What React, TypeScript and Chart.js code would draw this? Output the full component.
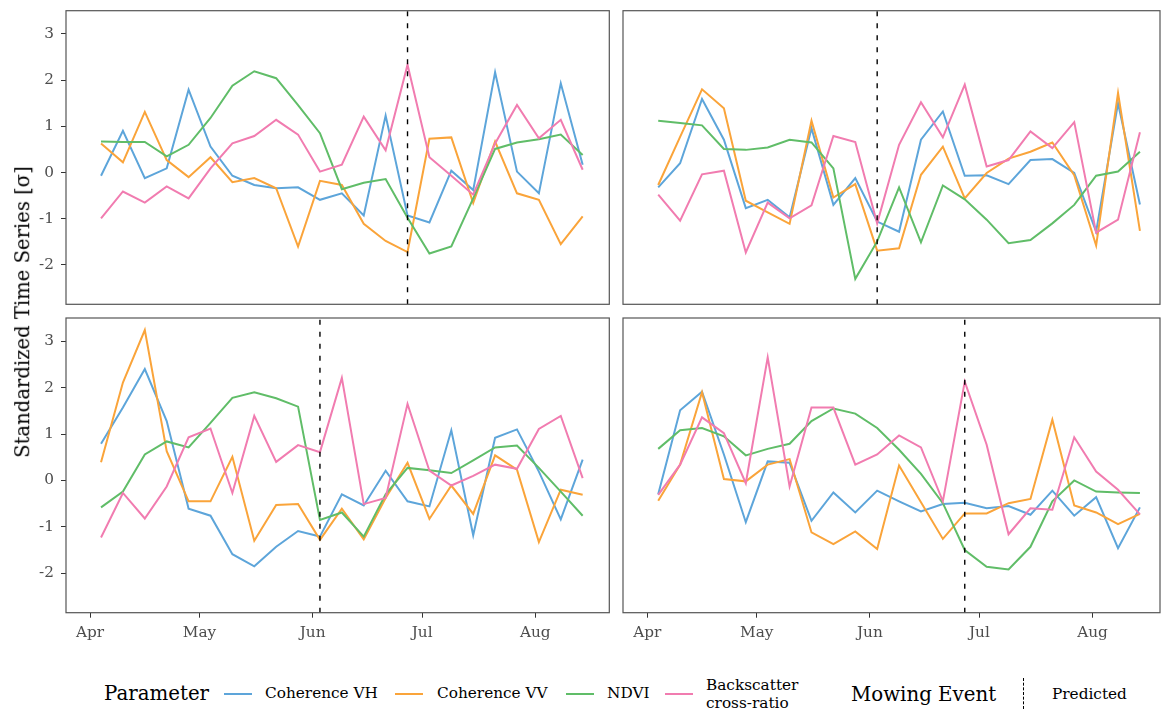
import React, { useEffect, useRef } from "react";
import { Chart, registerables } from "chart.js";

Chart.register(...registerables);

// ---------- data ----------
const acquisitionDates = [
  "04-04", "04-10", "04-16", "04-22", "04-28", "05-04", "05-10", "05-16",
  "05-22", "05-28", "06-03", "06-09", "06-15", "06-21", "06-27", "07-03",
  "07-09", "07-15", "07-21", "07-27", "08-02", "08-08", "08-14",
];
const monthTickDates = ["04-01", "05-01", "06-01", "07-01", "08-01"];
const monthTickLabels = ["Apr", "May", "Jun", "Jul", "Aug"];
const yTickValues = [-2, -1, 0, 1, 2, 3];
const seriesNames = ["Coherence VH", "Coherence VV", "NDVI", "Backscatter cross-ratio"];
const seriesColors = ["#5DA5DA", "#FAA43A", "#60BD68", "#F17CB0"];

// top-left field
const tlCoherenceVH = [-0.07, 0.9, -0.12, 0.09, 1.79, 0.56, -0.07, -0.27, -0.34, -0.32, -0.59, -0.45, -0.93, 1.23, -0.93, -1.08, 0.04, -0.38, 2.17, 0.02, -0.45, 1.93, 0.17];
const tlCoherenceVV = [0.63, 0.22, 1.31, 0.27, -0.1, 0.33, -0.21, -0.12, -0.34, -1.6, -0.18, -0.27, -1.11, -1.48, -1.72, 0.73, 0.76, -0.66, 0.67, -0.45, -0.59, -1.55, -0.95];
const tlNdvi = [0.67, 0.66, 0.66, 0.35, 0.6, 1.18, 1.88, 2.19, 2.04, 1.46, 0.85, -0.36, -0.22, -0.14, -0.98, -1.75, -1.6, -0.56, 0.51, 0.65, 0.72, 0.82, 0.38];
const tlCrossRatio = [-0.99, -0.41, -0.65, -0.3, -0.56, 0.09, 0.63, 0.79, 1.14, 0.82, 0.02, 0.17, 1.21, 0.48, 2.33, 0.33, -0.07, -0.48, 0.63, 1.46, 0.74, 1.14, 0.06];
const tlMowing = "06-27";

// top-right field
const trCoherenceVH = [-0.32, 0.2, 1.59, 0.71, -0.77, -0.59, -0.97, 0.96, -0.7, -0.12, -1.06, -1.28, 0.71, 1.32, -0.07, -0.06, -0.25, 0.27, 0.29, -0.01, -1.28, 1.5, -0.69];
const trCoherenceVV = [-0.27, 0.77, 1.8, 1.39, -0.61, -0.86, -1.11, 1.12, -0.54, -0.25, -1.69, -1.64, -0.05, 0.56, -0.56, -0.01, 0.3, 0.45, 0.65, -0.06, -1.58, 1.72, -1.26];
const trNdvi = [1.12, 1.07, 1.02, 0.51, 0.49, 0.54, 0.71, 0.65, 0.09, -2.3, -1.49, -0.32, -1.51, -0.28, -0.58, -1.02, -1.53, -1.46, -1.1, -0.7, -0.07, 0.02, 0.45];
const trCrossRatio = [-0.48, -1.04, -0.04, 0.04, -1.73, -0.65, -0.99, -0.71, 0.79, 0.66, -1.1, 0.6, 1.52, 0.76, 1.9, 0.13, 0.27, 0.89, 0.53, 1.09, -1.3, -1.02, 0.87];
const trMowing = "06-03";

// bottom-left field
const blCoherenceVH = [0.79, 1.57, 2.4, 1.28, -0.61, -0.76, -1.59, -1.85, -1.43, -1.09, -1.21, -0.3, -0.54, 0.21, -0.45, -0.56, 1.08, -1.18, 0.92, 1.1, 0.19, -0.84, 0.45];
const blCoherenceVV = [0.39, 2.11, 3.24, 0.63, -0.45, -0.45, 0.51, -1.3, -0.53, -0.51, -1.28, -0.61, -1.27, -0.38, 0.38, -0.83, -0.11, -0.72, 0.54, 0.23, -1.33, -0.2, -0.31];
const blNdvi = [-0.58, -0.24, 0.56, 0.84, 0.71, 1.24, 1.78, 1.9, 1.77, 1.59, -0.85, -0.69, -1.21, -0.3, 0.27, 0.22, 0.16, 0.43, 0.71, 0.75, 0.27, -0.24, -0.76];
const blCrossRatio = [-1.23, -0.27, -0.82, -0.13, 0.93, 1.12, -0.27, 1.39, 0.4, 0.76, 0.61, 2.21, -0.51, -0.38, 1.65, 0.21, -0.11, 0.1, 0.34, 0.25, 1.11, 1.39, 0.05];
const blMowing = "06-03";

// bottom-right field
const brCoherenceVH = [-0.3, 1.51, 1.91, 0.56, -0.9, 0.41, 0.38, -0.87, -0.26, -0.69, -0.22, -0.45, -0.67, -0.51, -0.48, -0.6, -0.55, -0.74, -0.22, -0.76, -0.36, -1.46, -0.58];
const brCoherenceVV = [-0.44, 0.34, 1.9, 0.03, -0.02, 0.34, 0.46, -1.12, -1.37, -1.1, -1.48, 0.32, -0.47, -1.26, -0.71, -0.71, -0.49, -0.4, 1.31, -0.54, -0.69, -0.94, -0.72];
const brNdvi = [0.68, 1.08, 1.13, 0.95, 0.54, 0.68, 0.79, 1.28, 1.55, 1.44, 1.13, 0.66, 0.14, -0.49, -1.5, -1.86, -1.92, -1.43, -0.45, 0.0, -0.24, -0.26, -0.27];
const brCrossRatio = [-0.31, 0.34, 1.36, 1.02, -0.06, 2.65, -0.13, 1.57, 1.57, 0.34, 0.56, 0.97, 0.71, -0.45, 2.13, 0.77, -1.16, -0.6, -0.63, 0.93, 0.19, -0.2, -0.73];
const brMowing = "06-27";

// ---------- helpers ----------
const MONTH_START: Record<number, number> = { 4: 0, 5: 30, 6: 61, 7: 91, 8: 122, 9: 153 };
function dayOffset(mmdd: string): number {
  const [m, d] = mmdd.split("-").map(Number);
  return MONTH_START[m] + d - 1;
}

const Y_MIN = -2.85;
const Y_MAX = 3.5;
const FONT = "'DejaVu Serif', serif";
const TICK_COLOR = "#4D4D4D";
const SMALL = 15.3;
const LARGE = 19.8;

const panelBorder = {
  id: "panelBorder",
  afterDatasetsDraw(chart: any) {
    const { ctx, chartArea: a } = chart;
    ctx.save();
    ctx.strokeStyle = "#555555";
    ctx.lineWidth = 1.2;
    ctx.strokeRect(a.left, a.top, a.right - a.left, a.bottom - a.top);
    ctx.restore();
  },
};

type PanelProps = {
  series: number[][];
  mowing: string;
  showX: boolean;
  showY: boolean;
  left: number;
  top: number;
  width: number;
  height: number;
  padding: { left: number; top: number; right: number; bottom: number };
  xMin: number;
  xMax: number;
  yAxisWidth: number;
  xAxisHeight: number;
};

function Panel(p: PanelProps) {
  const ref = useRef<HTMLCanvasElement | null>(null);
  useEffect(() => {
    if (!ref.current) return;
    const xs = acquisitionDates.map(dayOffset);
    const datasets: any[] = p.series.map((vals, i) => ({
      label: seriesNames[i],
      data: vals.map((v, k) => ({ x: xs[k], y: v })),
      borderColor: seriesColors[i],
      backgroundColor: seriesColors[i],
      borderWidth: 2,
      pointRadius: 0,
      tension: 0,
      order: 4 - i,
    }));
    const md = dayOffset(p.mowing);
    datasets.push({
      label: "Predicted",
      data: [{ x: md, y: Y_MIN }, { x: md, y: Y_MAX }],
      borderColor: "#000000",
      borderWidth: 1.4,
      borderDash: [5, 7],
      pointRadius: 0,
      order: 0,
    });
    const tickFont = { family: FONT, size: SMALL };
    const chart = new Chart(ref.current, {
      type: "line",
      data: { datasets },
      options: {
        animation: false,
        responsive: false,
        devicePixelRatio: 1,
        layout: { padding: p.padding },
        plugins: { legend: { display: false }, tooltip: { enabled: false } },
        scales: {
          x: {
            type: "linear",
            min: p.xMin,
            max: p.xMax,
            display: p.showX,
            afterBuildTicks: (s: any) => {
              s.ticks = monthTickDates.map((d) => ({ value: dayOffset(d) }));
            },
            afterFit: (s: any) => {
              if (p.showX) s.height = p.xAxisHeight;
              s.paddingLeft = 0;
              s.paddingRight = 0;
            },
            grid: { display: true, drawOnChartArea: false, drawTicks: true, tickLength: 5, color: "#333333", lineWidth: 1 },
            border: { display: false },
            ticks: {
              autoSkip: false,
              maxRotation: 0,
              padding: 6,
              color: TICK_COLOR,
              font: tickFont,
              callback: (_v: any, i: number) => monthTickLabels[i],
            },
          },
          y: {
            type: "linear",
            min: Y_MIN,
            max: Y_MAX,
            display: p.showY,
            afterBuildTicks: (s: any) => {
              s.ticks = yTickValues.map((v) => ({ value: v }));
            },
            afterFit: (s: any) => {
              if (p.showY) s.width = p.yAxisWidth;
              s.paddingTop = 0;
              s.paddingBottom = 0;
            },
            grid: { display: true, drawOnChartArea: false, drawTicks: true, tickLength: 5, color: "#333333", lineWidth: 1 },
            border: { display: false },
            ticks: {
              padding: 7,
              color: TICK_COLOR,
              font: tickFont,
              callback: (v: any) => String(v),
            },
          },
        },
      } as any,
      plugins: [panelBorder],
    });
    return () => chart.destroy();
  }, []);
  return (
    <canvas
      ref={ref}
      width={p.width}
      height={p.height}
      style={{ position: "absolute", left: p.left, top: p.top, width: p.width, height: p.height }}
    />
  );
}

const textBase: React.CSSProperties = {
  position: "absolute",
  fontFamily: FONT,
  color: "#000",
  whiteSpace: "nowrap",
  lineHeight: 1,
};

function LegendKey({ x, color }: { x: number; color: string }) {
  return <div style={{ position: "absolute", left: x, top: 693, width: 28, height: 2, background: color }} />;
}

export default function App() {
  const leftCol = { left: 0, width: 612, xMin: -6.6, xMax: 142.3 };
  const rightCol = { left: 618, width: 543, xMin: -6.65, xMax: 140.5 };
  const common = { yAxisWidth: 66, xAxisHeight: 49.3 };
  return (
    <div style={{ position: "absolute", left: 0, top: 0, width: 1161, height: 709, background: "#fff", overflow: "hidden" }}>
      <Panel
        series={[tlCoherenceVH, tlCoherenceVV, tlNdvi, tlCrossRatio]}
        mowing={tlMowing}
        showX={false}
        showY={true}
        left={leftCol.left}
        top={0}
        width={leftCol.width}
        height={307}
        padding={{ left: 0, top: 10.7, right: 2.7, bottom: 2.7 }}
        xMin={leftCol.xMin}
        xMax={leftCol.xMax}
        {...common}
      />
      <Panel
        series={[trCoherenceVH, trCoherenceVV, trNdvi, trCrossRatio]}
        mowing={trMowing}
        showX={false}
        showY={false}
        left={rightCol.left}
        top={0}
        width={rightCol.width}
        height={307}
        padding={{ left: 5, top: 10.7, right: 1, bottom: 2.7 }}
        xMin={rightCol.xMin}
        xMax={rightCol.xMax}
        {...common}
      />
      <Panel
        series={[blCoherenceVH, blCoherenceVV, blNdvi, blCrossRatio]}
        mowing={blMowing}
        showX={true}
        showY={true}
        left={leftCol.left}
        top={312}
        width={leftCol.width}
        height={350}
        padding={{ left: 0, top: 6, right: 2.7, bottom: 0 }}
        xMin={leftCol.xMin}
        xMax={leftCol.xMax}
        {...common}
      />
      <Panel
        series={[brCoherenceVH, brCoherenceVV, brNdvi, brCrossRatio]}
        mowing={brMowing}
        showX={true}
        showY={false}
        left={rightCol.left}
        top={312}
        width={rightCol.width}
        height={350}
        padding={{ left: 5, top: 6, right: 1, bottom: 0 }}
        xMin={rightCol.xMin}
        xMax={rightCol.xMax}
        {...common}
      />

      {/* y-axis title */}
      <div
        style={{
          ...textBase,
          fontSize: 19.6,
          left: 23,
          top: 312,
          transform: "translate(-50%, -50%) rotate(-90deg)",
        }}
      >
        Standardized Time Series [σ]
      </div>

      {/* legend */}
      <div style={{ ...textBase, fontSize: LARGE, left: 104, top: 694, transform: "translateY(-50%)" }}>Parameter</div>
      <LegendKey x={224} color={seriesColors[0]} />
      <div style={{ ...textBase, fontSize: SMALL, left: 265, top: 694, transform: "translateY(-50%)" }}>Coherence VH</div>
      <LegendKey x={395} color={seriesColors[1]} />
      <div style={{ ...textBase, fontSize: SMALL, left: 437, top: 694, transform: "translateY(-50%)" }}>Coherence VV</div>
      <LegendKey x={566} color={seriesColors[2]} />
      <div style={{ ...textBase, fontSize: SMALL, left: 607, top: 694, transform: "translateY(-50%)" }}>NDVI</div>
      <LegendKey x={665} color={seriesColors[3]} />
      <div style={{ ...textBase, fontSize: SMALL, left: 706, top: 695, transform: "translateY(-50%)", lineHeight: 1.15 }}>
        Backscatter
        <br />
        cross-ratio
      </div>
      <div style={{ ...textBase, fontSize: LARGE, left: 851, top: 695, transform: "translateY(-50%)" }}>Mowing Event</div>
      <div style={{ position: "absolute", left: 1023, top: 678, width: 0, height: 31, borderLeft: "1.4px dashed #000" }} />
      <div style={{ ...textBase, fontSize: SMALL, left: 1052, top: 695, transform: "translateY(-50%)" }}>Predicted</div>
    </div>
  );
}
